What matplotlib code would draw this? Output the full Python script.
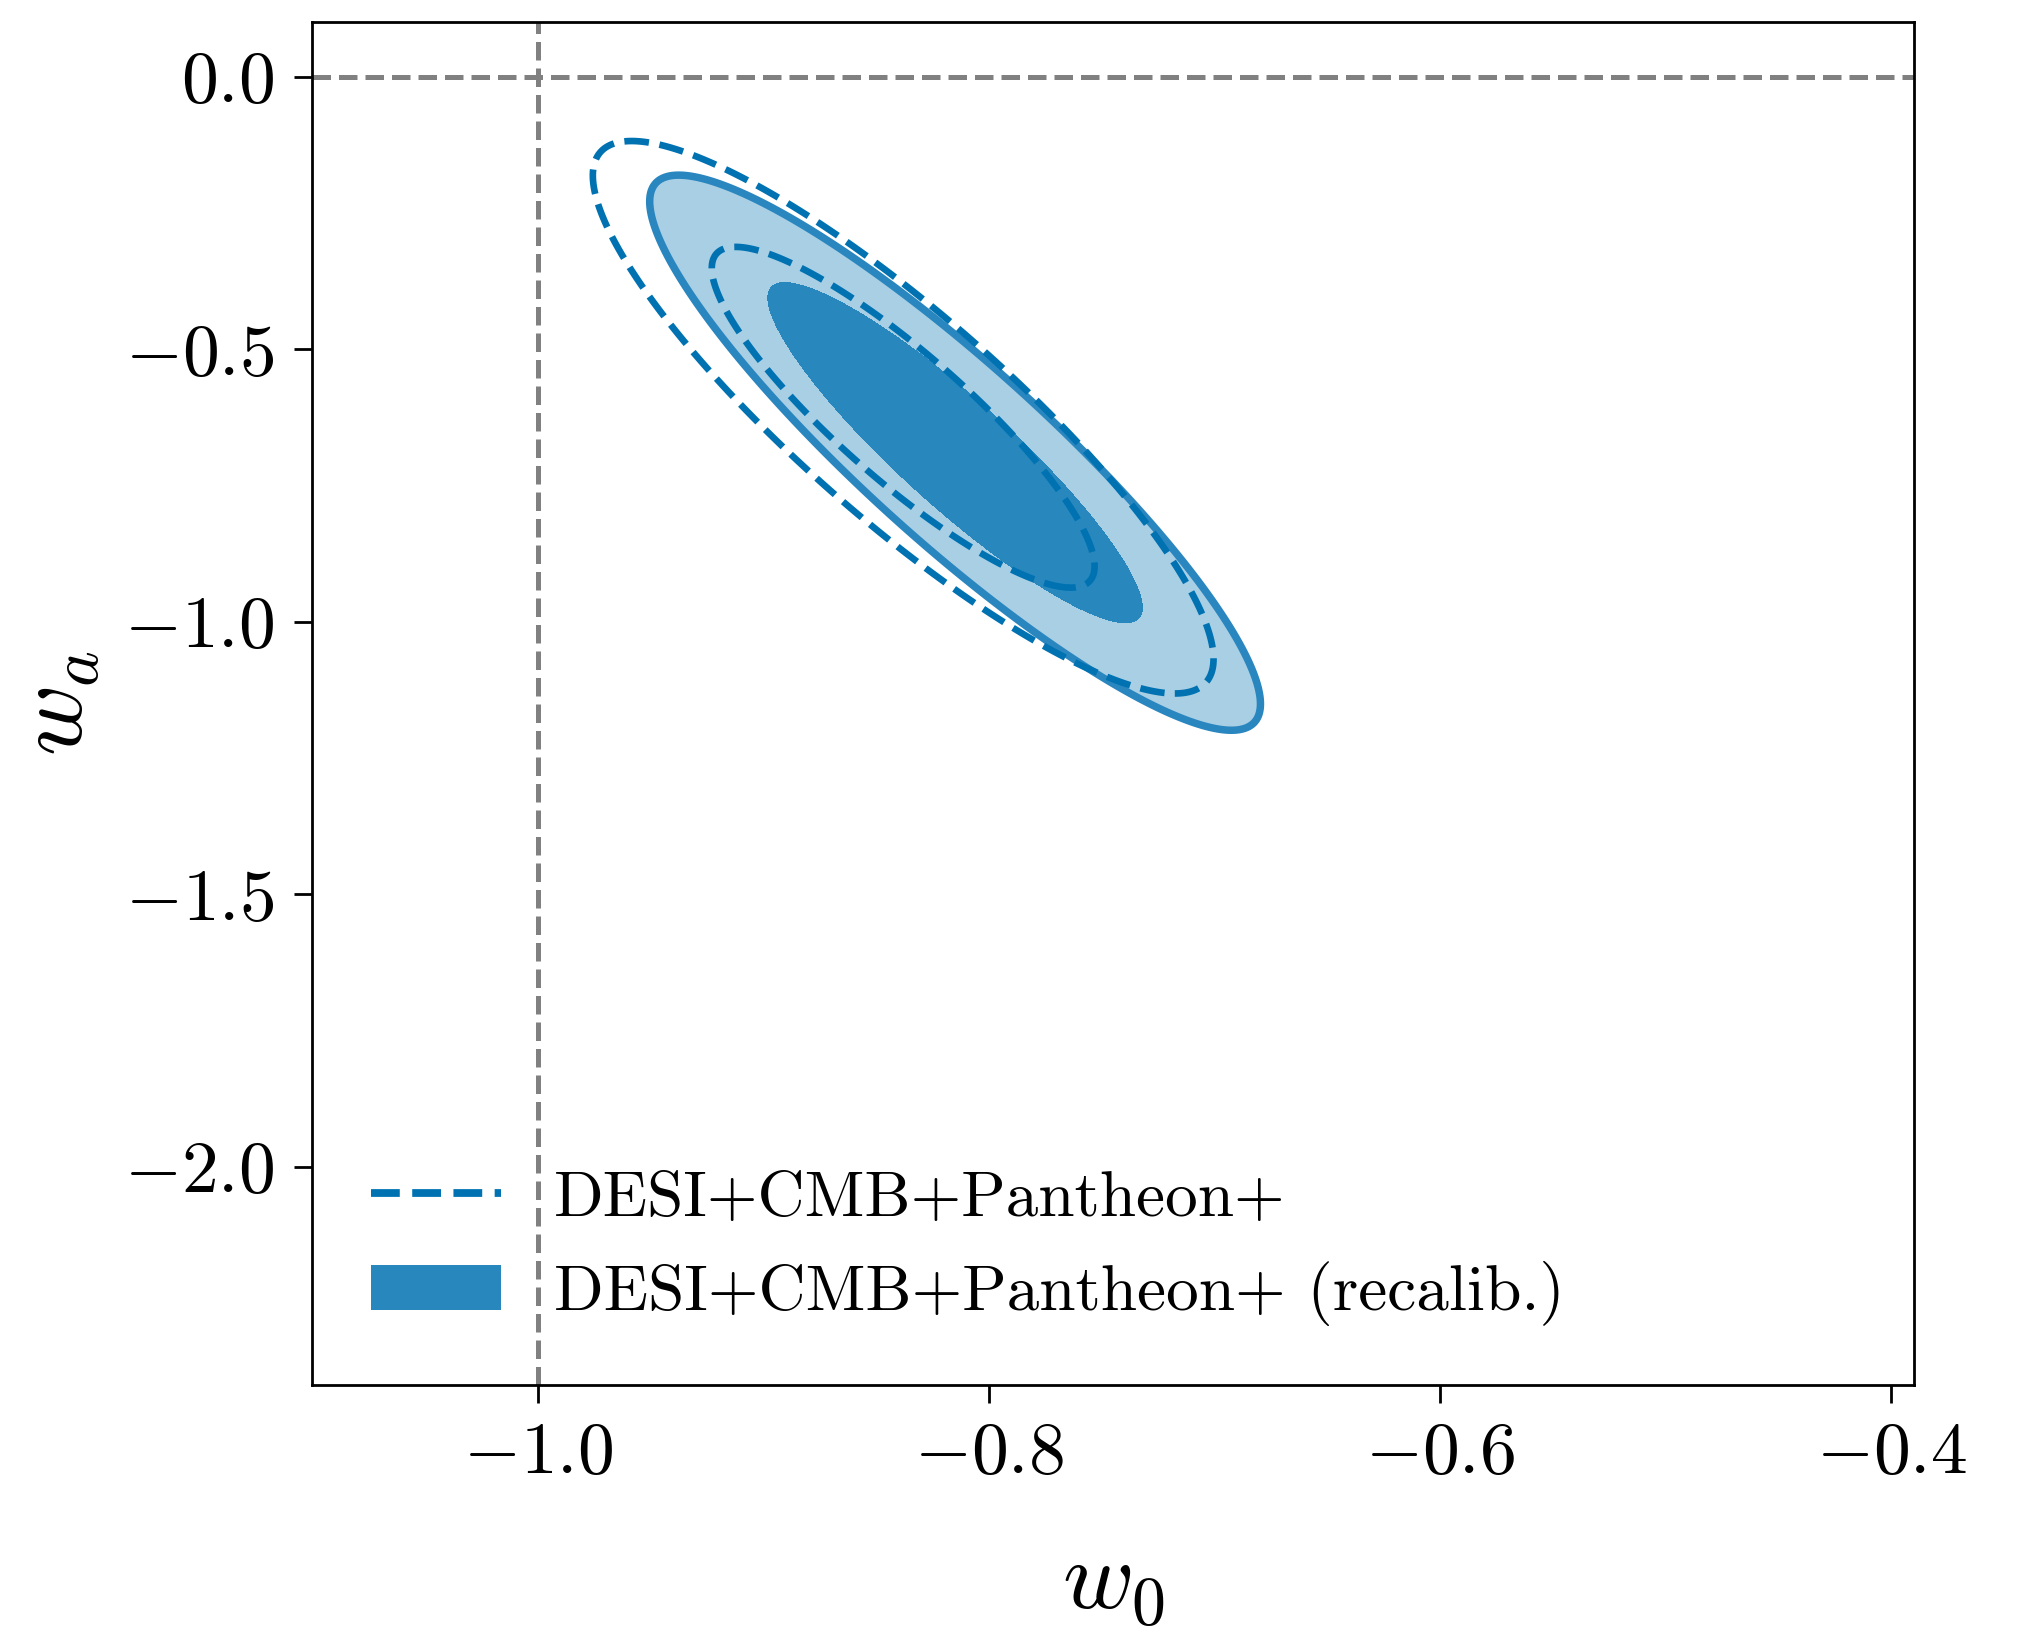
import numpy as np
import matplotlib
matplotlib.use("Agg")
import matplotlib.pyplot as plt
from matplotlib.lines import Line2D
from matplotlib.patches import Patch

plt.rcParams['font.family'] = ['cmr10']
plt.rcParams['mathtext.fontset'] = 'cm'
plt.rcParams['axes.formatter.use_mathtext'] = True
plt.rcParams['axes.unicode_minus'] = True

# Gaussian approximations of the two posteriors
labels = ['DESI+CMB+Pantheon+', 'DESI+CMB+Pantheon+ (recalib.)']
w0_mean = [-0.838, -0.815]
wa_mean = [-0.625, -0.690]
w0_sigma = [0.0562, 0.0553]
wa_sigma = [0.207, 0.208]
corr = [-0.875, -0.905]
chi2_levels = [2.279, 5.991]  # 68% and 95% for 2 parameters

x_ticks = [-1.0, -0.8, -0.6, -0.4]
y_ticks = [0.0, -0.5, -1.0, -1.5, -2.0]

line_blue = '#0072b2'
dark_fill = '#2888be'
light_fill = '#a9cfe4'
edge_blue = '#2a86bf'


def chi2_field(i, X, Y):
    dx = (X - w0_mean[i]) / w0_sigma[i]
    dy = (Y - wa_mean[i]) / wa_sigma[i]
    r = corr[i]
    return (dx**2 - 2*r*dx*dy + dy**2) / (1 - r**2)


fig = plt.figure(figsize=(10.145, 8.145), dpi=200)
ax = fig.add_axes([0.1538, 0.1498, 0.7895, 0.8367])

gx = np.linspace(-1.1, -0.39, 700)
gy = np.linspace(-2.4, 0.1, 700)
X, Y = np.meshgrid(gx, gy)

# reference lines
ax.axvline(-1.0, color='gray', ls='--', lw=1.8, zorder=1)
ax.axhline(0.0, color='gray', ls='--', lw=1.8, zorder=1)

# recalibrated: filled
Z1 = chi2_field(1, X, Y)
ax.contourf(X, Y, Z1, levels=[0, chi2_levels[0], chi2_levels[1]],
            colors=[dark_fill, light_fill], zorder=2)
ax.contour(X, Y, Z1, levels=[chi2_levels[1]], colors=[edge_blue],
           linewidths=2.7, zorder=3)

# original: dashed
Z0 = chi2_field(0, X, Y)
ax.contour(X, Y, Z0, levels=chi2_levels, colors=[line_blue],
           linewidths=2.4, linestyles='--', zorder=4)

ax.set_xlim(-1.1, -0.39)
ax.set_ylim(-2.4, 0.1)
ax.set_xticks(x_ticks)
ax.set_yticks(y_ticks)
ax.tick_params(labelsize=26.5, length=6.5, width=1.0, pad=7)
for s in ax.spines.values():
    s.set_linewidth(1.0)

ax.set_xlabel(r'$w_0$', fontsize=35, labelpad=20)
ax.set_ylabel(r'$w_a$', fontsize=35, labelpad=8)

handles = [Line2D([], [], color=line_blue, ls='--', lw=2.8),
           Patch(facecolor=dark_fill, edgecolor='none')]
ax.legend(handles, labels, loc='lower left', frameon=False, fontsize=23.5,
          labelspacing=0.5)

fig.savefig('out.png', dpi=200)
